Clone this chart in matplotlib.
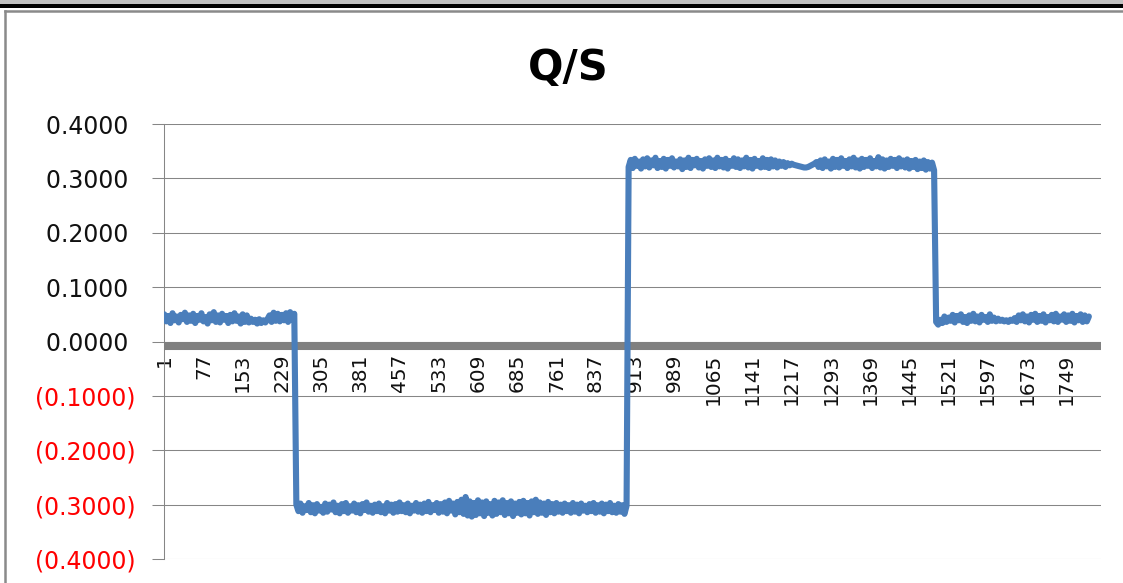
import numpy as np
import matplotlib
matplotlib.use("Agg")
import matplotlib.pyplot as plt
from matplotlib.patches import Rectangle
from matplotlib.lines import Line2D

# ---------------- data ----------------
title = "Q/S"
n_categories = 1816          # length of the category axis
sample_step = 4              # one reading every 4 categories

seg_low_start = [
    0.050, 0.037, 0.047, 0.034, 0.052, 0.039, 0.046, 0.035, 0.049, 0.041,
    0.053, 0.036, 0.048, 0.038, 0.051, 0.034, 0.047, 0.040, 0.052, 0.037,
    0.045, 0.033, 0.050, 0.039, 0.054, 0.036, 0.048, 0.035, 0.051, 0.040,
    0.047, 0.034, 0.049, 0.037, 0.052, 0.038, 0.046, 0.033, 0.050, 0.036,
    0.048, 0.035, 0.042, 0.036, 0.040, 0.033, 0.041, 0.034, 0.039, 0.035,
    0.041, 0.048, 0.036, 0.053, 0.038, 0.051, 0.037, 0.049, 0.039, 0.052,
    0.036, 0.054, 0.040, 0.051]

seg_negative = [
    -0.300, -0.312, -0.298, -0.315, -0.303, -0.310, -0.297, -0.314, -0.301, -0.316,
    -0.299, -0.311, -0.304, -0.315, -0.298, -0.313, -0.300, -0.309, -0.296, -0.314,
    -0.302, -0.316, -0.299, -0.312, -0.297, -0.315, -0.303, -0.311, -0.298, -0.314,
    -0.301, -0.316, -0.299, -0.310, -0.296, -0.313, -0.302, -0.315, -0.300, -0.312,
    -0.298, -0.314, -0.303, -0.316, -0.297, -0.311, -0.300, -0.315, -0.299, -0.313,
    -0.296, -0.312, -0.301, -0.314, -0.298, -0.316, -0.302, -0.311, -0.297, -0.313,
    -0.300, -0.315, -0.298, -0.312, -0.295, -0.314, -0.301, -0.310, -0.297, -0.315,
    -0.299, -0.313, -0.296, -0.316, -0.293, -0.311, -0.298, -0.318, -0.295, -0.314,
    -0.291, -0.317, -0.286, -0.320, -0.294, -0.322, -0.297, -0.319, -0.292, -0.316,
    -0.296, -0.321, -0.294, -0.315, -0.299, -0.320, -0.293, -0.317, -0.296, -0.314,
    -0.292, -0.319, -0.297, -0.316, -0.294, -0.321, -0.298, -0.315, -0.295, -0.318,
    -0.293, -0.316, -0.297, -0.320, -0.294, -0.314, -0.291, -0.317, -0.296, -0.315,
    -0.298, -0.319, -0.295, -0.314, -0.299, -0.316, -0.297, -0.313, -0.300, -0.315,
    -0.298, -0.312, -0.301, -0.315, -0.297, -0.313, -0.300, -0.316, -0.298, -0.311,
    -0.302, -0.314, -0.299, -0.312, -0.297, -0.315, -0.301, -0.313, -0.298, -0.316,
    -0.300, -0.312, -0.297, -0.314, -0.302, -0.315, -0.299, -0.313, -0.301, -0.317,
    -0.302]

seg_high = [
    0.321, 0.334, 0.319, 0.336, 0.323, 0.331, 0.318, 0.335, 0.322, 0.337,
    0.320, 0.333, 0.324, 0.338, 0.319, 0.332, 0.321, 0.336, 0.318, 0.334,
    0.323, 0.337, 0.320, 0.331, 0.322, 0.335, 0.317, 0.333, 0.321, 0.338,
    0.319, 0.334, 0.324, 0.336, 0.320, 0.332, 0.318, 0.335, 0.323, 0.337,
    0.321, 0.333, 0.319, 0.338, 0.322, 0.334, 0.320, 0.336, 0.318, 0.332,
    0.323, 0.337, 0.321, 0.335, 0.319, 0.333, 0.322, 0.338, 0.320, 0.334,
    0.318, 0.336, 0.323, 0.332, 0.320, 0.337, 0.321, 0.334, 0.319, 0.335,
    0.322, 0.333, 0.320, 0.331, 0.323, 0.330, 0.321, 0.328, 0.324, 0.327,
    0.325, 0.324, 0.323, 0.322, 0.321, 0.320, 0.320, 0.321, 0.323, 0.325,
    0.327, 0.330, 0.321, 0.333, 0.319, 0.335, 0.322, 0.331, 0.318, 0.336,
    0.321, 0.334, 0.320, 0.337, 0.323, 0.332, 0.319, 0.335, 0.322, 0.338,
    0.320, 0.333, 0.318, 0.336, 0.321, 0.334, 0.323, 0.337, 0.319, 0.332,
    0.322, 0.339, 0.320, 0.335, 0.318, 0.333, 0.321, 0.336, 0.323, 0.334,
    0.319, 0.337, 0.322, 0.333, 0.320, 0.335, 0.318, 0.332, 0.321, 0.334,
    0.317, 0.331, 0.319, 0.333, 0.316, 0.330, 0.318, 0.329, 0.315]

seg_low_end = [
    0.036, 0.031, 0.040, 0.034, 0.046, 0.036, 0.044, 0.038, 0.049, 0.035,
    0.047, 0.039, 0.050, 0.036, 0.045, 0.034, 0.048, 0.038, 0.051, 0.037,
    0.046, 0.035, 0.049, 0.040, 0.045, 0.036, 0.050, 0.038, 0.044, 0.037,
    0.042, 0.038, 0.040, 0.037, 0.039, 0.036, 0.040, 0.038, 0.043, 0.036,
    0.048, 0.039, 0.050, 0.037, 0.046, 0.035, 0.049, 0.040, 0.051, 0.036,
    0.047, 0.038, 0.050, 0.035, 0.045, 0.039, 0.049, 0.037, 0.051, 0.036,
    0.046, 0.040, 0.050, 0.036, 0.048, 0.038, 0.051, 0.035, 0.047, 0.039,
    0.050, 0.036, 0.048, 0.037, 0.046]

x_tick_labels = [1, 77, 153, 229, 305, 381, 457, 533, 609, 685, 761, 837,
                 913, 989, 1065, 1141, 1217, 1293, 1369, 1445, 1521, 1597,
                 1673, 1749]
y_ticks = [-0.4, -0.3, -0.2, -0.1, 0.0, 0.1, 0.2, 0.3, 0.4]

values = np.array(seg_low_start + seg_negative + seg_high + seg_low_end)
categories = 1 + sample_step * np.arange(len(values))

# ---------------- figure ----------------
W, H = 1123, 583
fig = plt.figure(figsize=(W / 100, H / 100), dpi=100)
fig.patch.set_facecolor("white")


def fx(px):
    return px / W


def fy(py):
    return 1 - py / H


# window decorations at the top and the chart frame
fig.add_artist(Rectangle((0, fy(5)), 1, 5 / H, transform=fig.transFigure,
                         facecolor="#c0c0c0", edgecolor="none", zorder=0))
fig.add_artist(Rectangle((0, fy(8)), 1, 3.5 / H, transform=fig.transFigure,
                         facecolor="black", edgecolor="none", zorder=0))
fig.add_artist(Line2D([fx(4.5), fx(4.5)], [fy(11), 0], transform=fig.transFigure,
                      color="#8a8a8a", lw=1.8))
fig.add_artist(Line2D([fx(4.5), 1], [fy(11), fy(11)], transform=fig.transFigure,
                      color="#8a8a8a", lw=1.8))

ax = fig.add_axes([fx(164), fy(559), (1101 - 164) / W, (559 - 124) / H])
ax.set_facecolor("none")

ax.plot(categories, values, color="#4A7EBB", lw=4.4, zorder=3,
        solid_joinstyle="round", solid_capstyle="round")

ax.set_xlim(0.5, n_categories + 0.5)
ax.set_ylim(-0.4, 0.4)

# y axis
y_labels = []
for v in y_ticks:
    if v < 0:
        y_labels.append("({:.4f})".format(-v))
    else:
        y_labels.append("{:.4f}\u2008".format(abs(v)))
ax.set_yticks(y_ticks, labels=y_labels)
for lab, v in zip(ax.get_yticklabels(), y_ticks):
    lab.set_color("#ff0000" if v < 0 else "#111111")
ax.tick_params(axis="y", direction="out", length=8.6, width=0.75,
               color="#868686", pad=12, labelsize=17)
ax.yaxis.grid(True, color="#868686", lw=0.75)
ax.set_axisbelow(True)

# x axis on the zero line
ax.set_xticks(x_tick_labels, labels=[str(v) for v in x_tick_labels])
ax.tick_params(axis="x", length=0, pad=6, labelrotation=90, labelsize=14.5,
               labelcolor="#111111")
for lab in ax.get_xticklabels():
    lab.set_fontfamily("DejaVu Sans Mono")

ax.spines["top"].set_visible(False)
ax.spines["right"].set_visible(False)
ax.spines["left"].set_color("#868686")
ax.spines["left"].set_linewidth(0.75)
ax.spines["bottom"].set_position(("data", -0.0074))
ax.spines["bottom"].set_color("#808080")
ax.spines["bottom"].set_linewidth(5.8)
ax.spines["bottom"].set_capstyle("butt")

fig.text(fx(568), fy(68), title, ha="center", va="center",
         fontsize=30, fontweight="bold")

fig.savefig("out.png", dpi=100)
